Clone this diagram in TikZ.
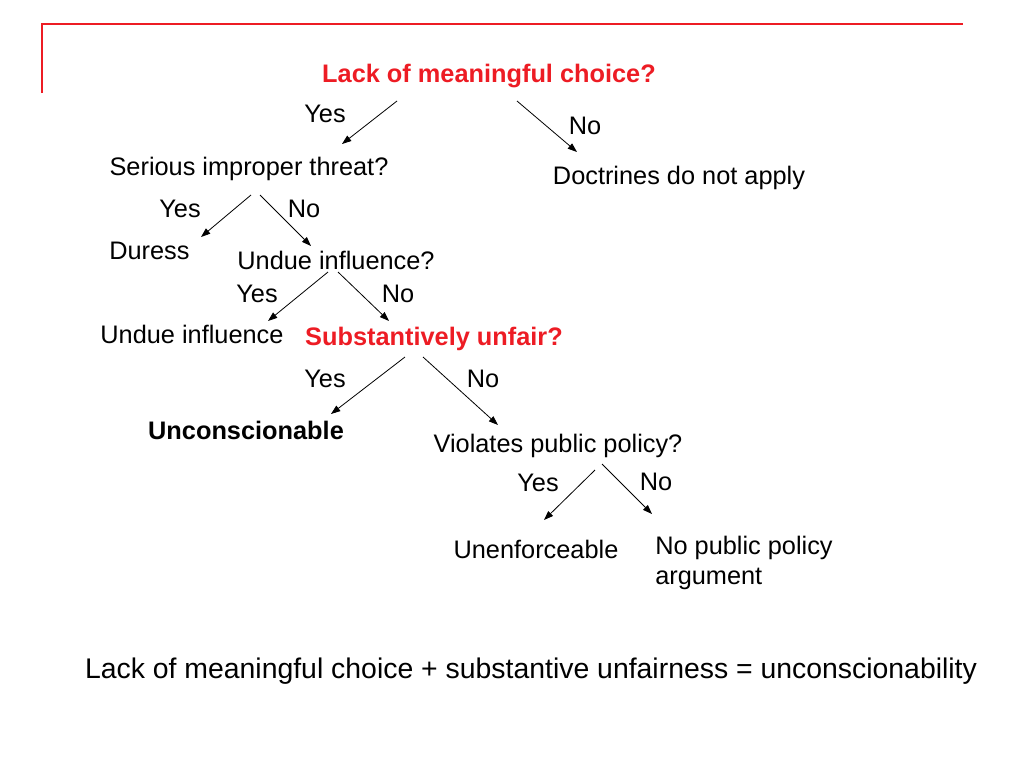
\documentclass[tikz,border=0pt]{standalone}
\usepackage{fontspec}
\setmainfont{Liberation Sans}
\usetikzlibrary{arrows.meta}
\begin{document}
\begin{tikzpicture}[
    x=0.75pt, y=-0.75pt,
    txt/.style={inner sep=0pt, font=\fontsize{19}{23}\selectfont},
    ques/.style={txt, font=\fontsize{19}{23}\selectfont\bfseries, text={rgb,255:red,237;green,28;blue,36}},
    arr/.style={-{Triangle[length=7pt,width=5pt]}, line width=0.6pt},
    ]
    \useasboundingbox (0,0) rectangle (1024,768);

    %Frame
    \draw[line width=1.5pt, color={rgb,255:red,237;green,28;blue,36}] (42,93) -- (42,24) -- (963,24);

    %Nodes
    \node[ques] at (489,76) (choice) {Lack of meaningful choice?};
    \node[txt] at (249,169) (threat) {Serious improper threat?};
    \node[txt] at (679,178) (noapply) {Doctrines do not apply};
    \node[txt, anchor=west] at (109,251) (duress) {Duress};
    \node[txt] at (336,260) (undueq) {Undue influence?};
    \node[txt] at (192,334) (undue) {Undue influence};
    \node[ques] at (434,339) (unfair) {Substantively unfair?};
    \node[txt, font=\fontsize{19}{23}\selectfont\bfseries] at (246,430) (uncons) {Unconscionable};
    \node[txt] at (558,446) (policy) {Violates public policy?};
    \node[txt] at (536,549) (unenf) {Unenforceable};
    \node[txt, anchor=west, align=left, font=\fontsize{19}{22.5}\selectfont] at (655,563) (noarg) {No public policy\\argument};
    \node[txt, font=\fontsize{21.3}{25}\selectfont] at (531,671) (summary) {Lack of meaningful choice + substantive unfairness = unconscionability};

    %Labels
    \node[txt] at (325,114) (y1) {Yes};
    \node[txt] at (585,126) (n1) {No};
    \node[txt] at (180,209) (y2) {Yes};
    \node[txt] at (304,209) (n2) {No};
    \node[txt] at (257,294) (y3) {Yes};
    \node[txt] at (398,294) (n3) {No};
    \node[txt] at (325,379) (y4) {Yes};
    \node[txt] at (483,379) (n4) {No};
    \node[txt] at (538,483) (y5) {Yes};
    \node[txt] at (656,482) (n5) {No};

    %Arrow ends
    \coordinate (c1a) at (397,101); \coordinate (c1b) at (342,144);
    \coordinate (c2a) at (517,101); \coordinate (c2b) at (577,152);
    \coordinate (c3a) at (251,195); \coordinate (c3b) at (201,237);
    \coordinate (c4a) at (260,195); \coordinate (c4b) at (311,246);
    \coordinate (c5a) at (328,272); \coordinate (c5b) at (268,321);
    \coordinate (c6a) at (338,272); \coordinate (c6b) at (389,321);
    \coordinate (c7a) at (405,357); \coordinate (c7b) at (331,414);
    \coordinate (c8a) at (423,357); \coordinate (c8b) at (498,425);
    \coordinate (c9a) at (595,470); \coordinate (c9b) at (544,520);
    \coordinate (c10a) at (602,464); \coordinate (c10b) at (652,514);

    %Lines
    \draw[arr] (c1a) -- (c1b);
    \draw[arr] (c2a) -- (c2b);
    \draw[arr] (c3a) -- (c3b);
    \draw[arr] (c4a) -- (c4b);
    \draw[arr] (c5a) -- (c5b);
    \draw[arr] (c6a) -- (c6b);
    \draw[arr] (c7a) -- (c7b);
    \draw[arr] (c8a) -- (c8b);
    \draw[arr] (c9a) -- (c9b);
    \draw[arr] (c10a) -- (c10b);
\end{tikzpicture}
\end{document}
